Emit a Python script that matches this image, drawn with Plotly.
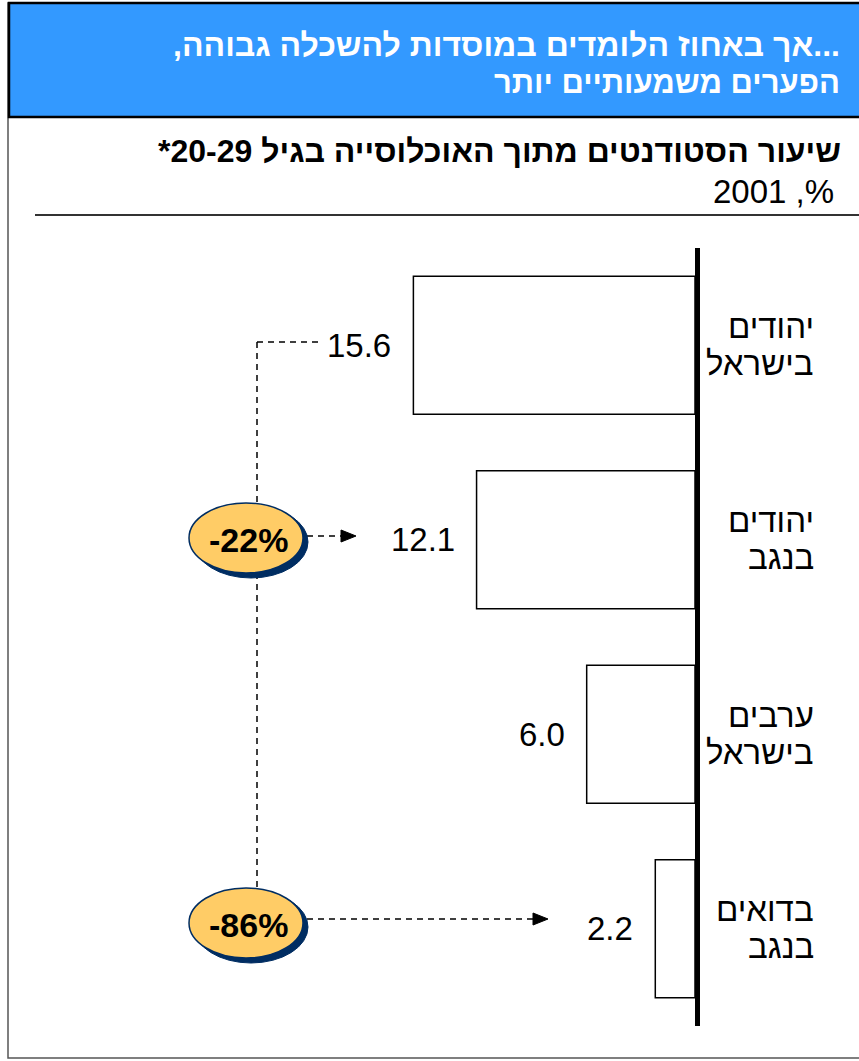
import plotly.graph_objects as go

# ---------------- data ----------------
categories = ["יהודים<br>בישראל", "יהודים<br>בנגב", "ערבים<br>בישראל", "בדואים<br>בנגב"]
values = [15.6, 12.1, 6.0, 2.2]
gap_labels = ["-22%", "-86%"]

title_lines = ["...אך באחוז הלומדים במוסדות להשכלה גבוהה,", "הפערים משמעותיים יותר"]
subtitle = "שיעור הסטודנטים מתוך האוכלוסייה בגיל 20-29*"
unit_line = "%, 2001"

# ---------------- geometry helpers ----------------
W, H = 859, 1061
RLE, PDF = "\u202b", "\u202c"


def rtl(s):
    return RLE + s + PDF


def px(x):
    return x / W


def py(y):
    return 1 - y / H


FONT = "Liberation Sans, Arial, sans-serif"

fig = go.Figure()

fig.add_trace(go.Bar(
    orientation="h",
    x=values,
    y=categories,
    width=0.71,
    marker=dict(color="white", line=dict(color="black", width=1.5)),
    hoverinfo="skip",
    showlegend=False,
))

shapes = []
annotations = []

# outer frame
shapes.append(dict(type="rect", xref="paper", yref="paper",
                   x0=px(8), x1=px(866), y0=py(1058), y1=py(3),
                   line=dict(color="#555555", width=1.5), fillcolor="rgba(0,0,0,0)", layer="below"))
# header band
shapes.append(dict(type="rect", xref="paper", yref="paper",
                   x0=px(9), x1=px(866), y0=py(117), y1=py(3),
                   line=dict(color="black", width=2.5), fillcolor="#3399FF", layer="below"))
# rule under subtitle
shapes.append(dict(type="line", xref="paper", yref="paper",
                   x0=px(35), x1=px(866), y0=py(215), y1=py(215),
                   line=dict(color="#333333", width=2)))

# dashed connectors
DASH = "6px,5px"
LW = 1.5
shapes.append(dict(type="line", xref="paper", yref="paper",
                   x0=px(257), x1=px(320), y0=py(342), y1=py(342),
                   line=dict(color="black", width=LW, dash=DASH)))
shapes.append(dict(type="line", xref="paper", yref="paper",
                   x0=px(257), x1=px(257), y0=py(342), y1=py(890),
                   line=dict(color="black", width=LW, dash=DASH)))
shapes.append(dict(type="line", xref="paper", yref="paper",
                   x0=px(307), x1=px(342), y0=py(536), y1=py(536),
                   line=dict(color="black", width=LW, dash=DASH)))
shapes.append(dict(type="line", xref="paper", yref="paper",
                   x0=px(307), x1=px(534), y0=py(919), y1=py(919),
                   line=dict(color="black", width=LW, dash=DASH)))


def arrow_head(tipx, tipy):
    return dict(type="path", xref="paper", yref="paper",
                path=f"M {px(tipx)} {py(tipy)} L {px(tipx-15)} {py(tipy-6)} L {px(tipx-15)} {py(tipy+6)} Z",
                fillcolor="black", line=dict(color="black", width=1))


shapes.append(arrow_head(356, 536))
shapes.append(arrow_head(548, 919))

# ellipses with shadow
for cy, lab in zip([538, 923], gap_labels):
    cx, rx, ry = 246, 57, 35
    shapes.append(dict(type="circle", xref="paper", yref="paper",
                       x0=px(cx - rx + 5), x1=px(cx + rx + 5), y0=py(cy + ry + 5), y1=py(cy - ry + 3),
                       fillcolor="#002D62", line=dict(color="#002D62", width=1)))
    shapes.append(dict(type="circle", xref="paper", yref="paper",
                       x0=px(cx - rx), x1=px(cx + rx), y0=py(cy + ry), y1=py(cy - ry),
                       fillcolor="#FFCC66", line=dict(color="#002D62", width=1.5)))
    annotations.append(dict(xref="paper", yref="paper", x=px(cx + 2), y=py(cy + 2),
                            text=f"<b>{lab}</b>", showarrow=False,
                            font=dict(family=FONT, size=34, color="black"),
                            xanchor="center", yanchor="middle"))

# header texts
for yy, line, fs in zip([45, 82], title_lines, [32, 31]):
    annotations.append(dict(xref="paper", yref="paper", x=px(842), y=py(yy),
                            text=f"<b>{rtl(line)}</b>", showarrow=False,
                            font=dict(family=FONT, size=fs, color="white"),
                            xanchor="right", yanchor="middle"))
annotations.append(dict(xref="paper", yref="paper", x=px(843), y=py(151),
                        text=f"<b>{rtl(subtitle)}</b>", showarrow=False,
                        font=dict(family=FONT, size=32, color="black"),
                        xanchor="right", yanchor="middle"))
annotations.append(dict(xref="paper", yref="paper", x=px(836), y=py(191),
                        text=rtl(unit_line), showarrow=False,
                        font=dict(family=FONT, size=33, color="black"),
                        xanchor="right", yanchor="middle"))

# category labels (two lines each) and value labels
for cat, v in zip(categories, values):
    parts = cat.split("<br>")
    for i, part in enumerate(parts):
        annotations.append(dict(xref="paper", yref="y", x=px(816), y=cat,
                                text=part, showarrow=False, yshift=19 - 37 * i,
                                font=dict(family=FONT, size=33, color="black"),
                                xanchor="right", yanchor="middle"))
    annotations.append(dict(xref="x", yref="y", x=v, y=cat,
                            text=f"{v:.1f}", showarrow=False, xshift=-20,
                            font=dict(family=FONT, size=33, color="black"),
                            xanchor="right", yanchor="middle"))

fig.update_layout(
    width=W, height=H,
    margin=dict(l=0, r=0, t=0, b=0),
    paper_bgcolor="white", plot_bgcolor="rgba(0,0,0,0)",
    shapes=shapes, annotations=annotations,
    bargap=0.29,
    xaxis=dict(domain=[0, px(695)], range=[38.5, 0], visible=False, fixedrange=True),
    yaxis=dict(domain=[py(1026), py(248)], autorange="reversed", side="right",
               showticklabels=False, ticks="", showgrid=False, zeroline=False,
               showline=True, linecolor="black", linewidth=5, fixedrange=True),
    font=dict(family=FONT),
)

fig.write_html("out.html", config={"displayModeBar": False},
               post_script="document.body.style.margin='0';document.body.style.overflow='hidden';")
